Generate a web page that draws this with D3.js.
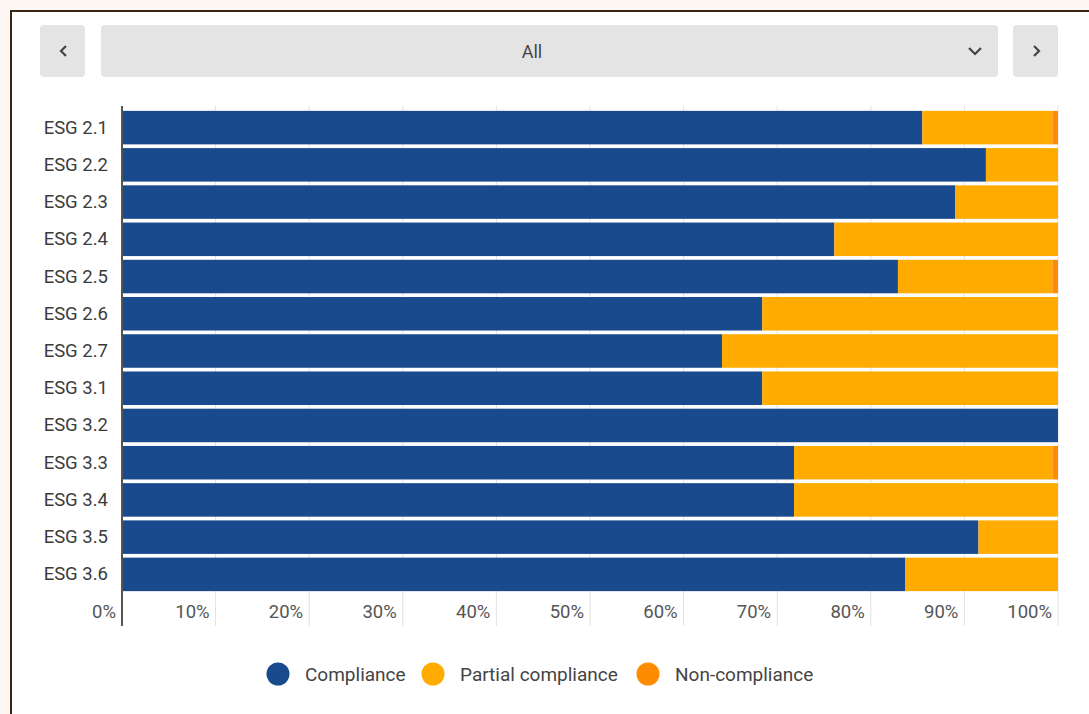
<!DOCTYPE html>
<html>
<head>
<meta charset="utf-8">
<script src="https://cdn.jsdelivr.net/npm/d3@7"></script>
<style>
  body { margin: 0; background: #fdf8f4; font-family: Roboto, "Noto Sans", sans-serif; }
  #panel {
    position: absolute; left: 10px; top: 10px; width: 1100px; height: 720px;
    background: #fff; border-left: 2px solid #3a2614; border-top: 2px solid #3a2614;
  }
  #chart { position: absolute; left: 0; top: 0; }
</style>
</head>
<body>
<div id="panel"></div>
<div id="chart"></div>
<script>
document.addEventListener('DOMContentLoaded', () => {
    const categories = ["ESG 2.1", "ESG 2.2", "ESG 2.3", "ESG 2.4", "ESG 2.5", "ESG 2.6", "ESG 2.7",
                        "ESG 3.1", "ESG 3.2", "ESG 3.3", "ESG 3.4", "ESG 3.5", "ESG 3.6"];
    const compliance = [85.5, 92.3, 89.0, 76.1, 82.9, 68.4, 64.1, 68.4, 100, 71.8, 71.8, 91.5, 83.7];
    const nonCompliance = [0.6, 0, 0, 0, 0.6, 0, 0, 0, 0, 0.6, 0, 0, 0];
    const partial = compliance.map((c, i) => +(100 - c - nonCompliance[i]).toFixed(1));

    const seriesNames = ["Compliance", "Partial compliance", "Non-compliance"];
    const colors = ["#1a4a8e", "#ffab00", "#ff8b00"];
    const xTicks = [0, 10, 20, 30, 40, 50, 60, 70, 80, 90, 100];

    const rows = categories.map((c, i) => ({
        cat: c, "Compliance": compliance[i], "Partial compliance": partial[i], "Non-compliance": nonCompliance[i]
    }));

    const svg = d3.select("#chart").append("svg")
        .attr("width", 1089)
        .attr("height", 714);

    // top controls
    const ctrl = svg.append("g");
    ctrl.append("rect").attr("x", 40).attr("y", 25).attr("width", 45).attr("height", 52)
        .attr("rx", 4).attr("fill", "#e4e4e4");
    ctrl.append("rect").attr("x", 101).attr("y", 25).attr("width", 897).attr("height", 52)
        .attr("rx", 4).attr("fill", "#e4e4e4");
    ctrl.append("rect").attr("x", 1013).attr("y", 25).attr("width", 45).attr("height", 52)
        .attr("rx", 4).attr("fill", "#e4e4e4");
    ctrl.append("path").attr("d", "M66,46 L61,51 L66,56")
        .attr("fill", "none").attr("stroke", "#444").attr("stroke-width", 2.2);
    ctrl.append("path").attr("d", "M1034,46 L1039,51 L1034,56")
        .attr("fill", "none").attr("stroke", "#444").attr("stroke-width", 2.2);
    ctrl.append("path").attr("d", "M969,48 L975,54 L981,48")
        .attr("fill", "none").attr("stroke", "#444").attr("stroke-width", 2.2);
    ctrl.append("text").attr("x", 532).attr("y", 51).attr("text-anchor", "middle")
        .attr("dominant-baseline", "central").attr("font-size", 18).attr("fill", "#444").text("All");

    const x = d3.scaleLinear().domain([0, 100]).range([122, 1058]);
    const y = d3.scaleBand().domain(categories).range([109, 593]).paddingInner(0.1).paddingOuter(0.05);

    // gridlines
    svg.append("g").selectAll("line")
        .data(xTicks.slice(1))
        .enter()
        .append("line")
        .attr("x1", d => x(d)).attr("x2", d => x(d))
        .attr("y1", 106).attr("y2", 626)
        .attr("stroke", "#e2e2e2").attr("stroke-width", 1);

    const stack = d3.stack().keys(seriesNames)(rows);

    svg.append("g").selectAll("g")
        .data(stack)
        .enter()
        .append("g")
        .attr("fill", (d, i) => colors[i])
        .selectAll("rect")
        .data(d => d)
        .enter()
        .append("rect")
        .attr("x", d => x(d[0]))
        .attr("width", d => x(d[1]) - x(d[0]))
        .attr("y", d => y(d.data.cat))
        .attr("height", y.bandwidth());

    // y labels
    svg.append("g").selectAll("text")
        .data(categories)
        .enter()
        .append("text")
        .attr("x", 108)
        .attr("y", d => y(d) + y.bandwidth() / 2)
        .attr("text-anchor", "end")
        .attr("dominant-baseline", "central")
        .attr("font-size", 18.5)
        .attr("fill", "#3c3c3c")
        .text(d => d);

    // x labels
    svg.append("g").selectAll("text")
        .data(xTicks)
        .enter()
        .append("text")
        .attr("x", d => x(d) - 6)
        .attr("y", 612)
        .attr("text-anchor", "end")
        .attr("dominant-baseline", "central")
        .attr("font-size", 18.5)
        .attr("fill", "#555")
        .text(d => d + "%");

    // axis line
    svg.append("line")
        .attr("x1", x(0)).attr("x2", x(0))
        .attr("y1", 106).attr("y2", 626)
        .attr("stroke", "#555").attr("stroke-width", 2);

    // legend
    const legendX = [278, 433, 648];
    const legend = svg.append("g").selectAll("g")
        .data(seriesNames)
        .enter()
        .append("g")
        .attr("transform", (d, i) => `translate(${legendX[i]},674)`);
    legend.append("circle").attr("r", 11.5).attr("fill", (d, i) => colors[i]);
    legend.append("text")
        .attr("x", 27)
        .attr("dominant-baseline", "central")
        .attr("font-size", 19)
        .attr("fill", "#444")
        .text(d => d);
});
</script>
</body>
</html>
